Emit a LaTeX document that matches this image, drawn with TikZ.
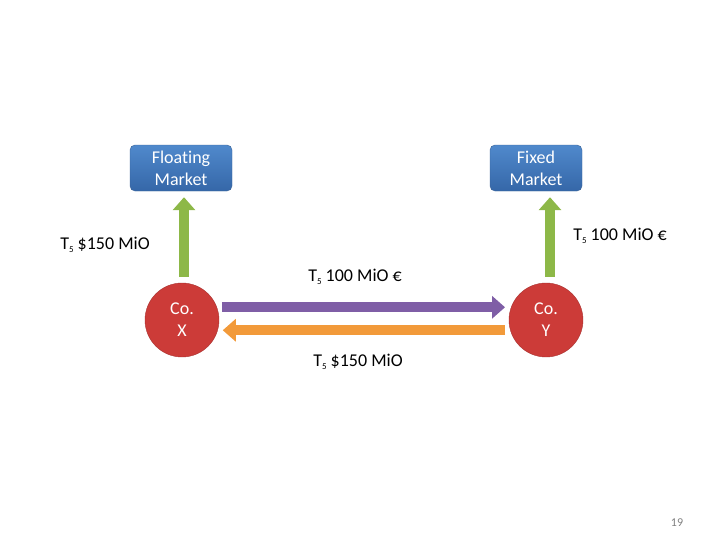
\documentclass[tikz,border=0pt]{standalone}
\usepackage{fontspec}
\setmainfont{Carlito}[Ligatures=NoCommon]
\usetikzlibrary{arrows.meta}
\definecolor{mkttop}{HTML}{5089CC}
\definecolor{mktbot}{HTML}{3567A8}
\definecolor{mktline}{HTML}{3A6397}
\definecolor{cored}{HTML}{CC3B38}
\definecolor{coline}{HTML}{A83230}
\definecolor{upgreen}{HTML}{8DB848}
\definecolor{swappurple}{HTML}{7F5EA6}
\definecolor{swaporange}{HTML}{F29A3A}
\newcommand{\tfive}{T\raisebox{-3pt}{\fontsize{9}{9}\selectfont 5}}

\begin{document}
\begin{tikzpicture}[x=1pt,y=-1pt,
  big/.style={font=\fontsize{18}{22}\selectfont},
  market/.style={big, draw=mktline, rounded corners=5pt, top color=mkttop, bottom color=mktbot,
    text=white, minimum height=46pt, align=center},
  company/.style={big, circle, draw=coline, fill=cored, text=white, minimum size=74pt,
    inner sep=0pt, align=center},
  flow/.style={line width=10pt, -{Triangle[width=22pt,length=13pt]}},
]
  \useasboundingbox (0,0) rectangle (728,546);

  % markets and companies
  \node[market, minimum width=102pt] (floating) at (181,168) {Floating\\Market};
  \node[market, minimum width=92pt] (fixed) at (536,168) {Fixed\\Market};
  \node[company] (coX) at (182,320) {Co.\\X};
  \node[company] (coY) at (546,320) {Co.\\Y};

  % payments to the markets
  \draw[flow, upgreen, shorten <=6pt, shorten >=6pt] ([xshift=2pt]coX.north) -- ([xshift=2pt]coX.north |- floating.south);
  \draw[flow, upgreen, shorten <=6pt, shorten >=6pt] ([xshift=4pt]coY.north) -- ([xshift=4pt]coY.north |- fixed.south);

  % swap between the companies
  \draw[flow, swappurple, shorten <=5pt, shorten >=6pt] (coX.20) -- (coY.160);
  \draw[flow, swaporange, shorten <=5pt, shorten >=5pt] (coY.196) -- (coX.-16);

  \node[big] (lblfloat) at (105,245) {\tfive{} \$150 MiO};
  \node[big] (lblfixed) at (620,236) {\tfive{} 100 MiO €};
  \node[big] (lbleuro) at (355,277) {\tfive{} 100 MiO €};
  \node[big] (lbldollar) at (358,362) {\tfive{} \$150 MiO};

  \node[gray, font=\fontsize{12}{14}\selectfont] (page) at (677,523) {19};
\end{tikzpicture}
\end{document}
